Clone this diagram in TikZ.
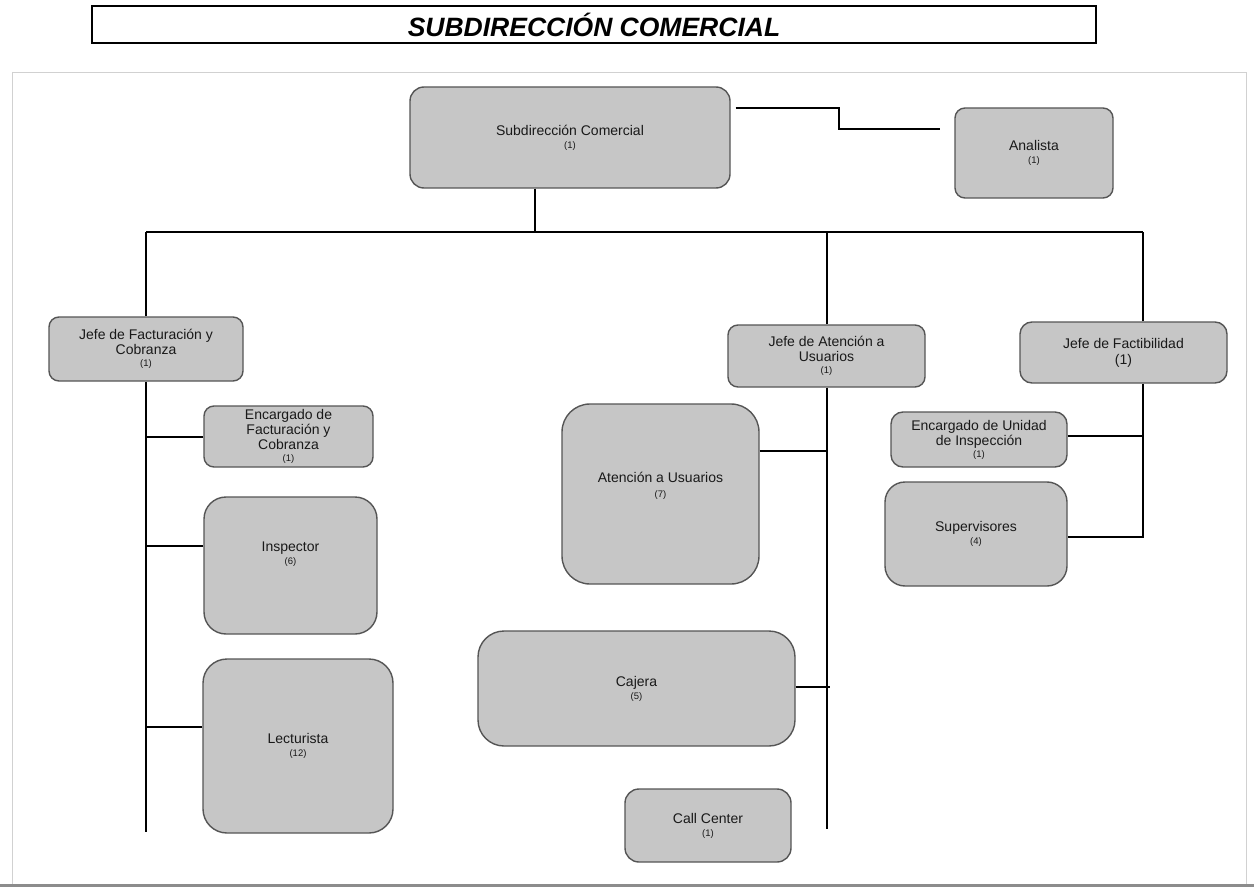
\documentclass[tikz,border=0pt]{standalone}
\usepackage{fontspec}
\setmainfont{Liberation Sans}
\definecolor{boxfill}{RGB}{198,198,198}
\definecolor{boxline}{RGB}{85,85,85}
\definecolor{txt}{RGB}{25,25,25}
\newcommand\cntx[1]{{\fontsize{9.5}{10}\selectfont #1}}
\begin{document}
\begin{tikzpicture}[x=1pt,y=-1pt,
  box/.style={draw=boxline, fill=boxfill, line width=1.4pt, rounded corners=10pt,
    inner sep=0pt, align=center, text=txt, font=\fontsize{14}{15}\selectfont},
  conn/.style={draw=black, line width=2pt}]
\useasboundingbox (0,0) rectangle (1254,888);
% faint frame of the scanned chart
\draw[black!18, line width=0.8pt] (12,72) -- (1246,72) -- (1246,885);
\draw[black!18, line width=0.8pt] (12,72) -- (12,885);
\draw[black!45, line width=3pt] (0,885) -- (1254,885);
% title
\node[draw=black, line width=2.2pt, minimum width=1004pt, minimum height=37pt, inner sep=0pt,
  font=\fontsize{26.5}{28}\selectfont\bfseries\itshape] (title) at (594,24.5) {SUBDIRECCIÓN COMERCIAL};
% boxes
\node[box, rounded corners=14pt, minimum width=320pt, minimum height=101pt] (sub) at (570,137.5) {Subdirección Comercial\\[-2pt]\cntx{(1)}};
\node[box, minimum width=158pt, minimum height=90pt] (an) at (1034,153) {Analista\\[-2pt]\cntx{(1)}};
\node[box, minimum width=194pt, minimum height=64pt] (jfc) at (146,349) {Jefe de Facturación y\\Cobranza\\[-3pt]\cntx{(1)}};
\node[box, minimum width=169pt, minimum height=61pt] (efc) at (288.5,436.5) {Encargado de\\Facturación y\\Cobranza\\[-3pt]\cntx{(1)}};
\node[box, rounded corners=22pt, minimum width=173pt, minimum height=137pt] (insp) at (290.5,565.5) {Inspector\\[-2pt]\cntx{(6)}\\[10pt]};
\node[box, rounded corners=24pt, minimum width=190pt, minimum height=174pt] (lect) at (298,746) {Lecturista\\[-2pt]\cntx{(12)}};
\node[box, minimum width=197pt, minimum height=62pt] (ja) at (826.5,356) {Jefe de Atención a\\Usuarios\\[-3pt]\cntx{(1)}};
\node[box, rounded corners=28pt, minimum width=197pt, minimum height=180pt] (au) at (660.5,494) {Atención a Usuarios\\[0pt]\cntx{(7)}\\[4pt]};
\node[box, rounded corners=26pt, minimum width=317pt, minimum height=115pt] (caj) at (636.5,688.5) {Cajera\\[-2pt]\cntx{(5)}};
\node[box, rounded corners=14pt, minimum width=166pt, minimum height=73pt] (cc) at (708,825.5) {Call Center\\[-2pt]\cntx{(1)}};
\node[box, rounded corners=12pt, minimum width=207pt, minimum height=61pt] (jf) at (1123.5,352.5) {Jefe de Factibilidad\\[1pt](1)};
\node[box, rounded corners=12pt, minimum width=176pt, minimum height=55pt] (eui) at (979,439.5) {Encargado de Unidad\\de Inspección\\[-3pt]\cntx{(1)}};
\node[box, rounded corners=20pt, minimum width=182pt, minimum height=104pt] (sup) at (976,534) {Supervisores\\[-2pt]\cntx{(4)}};
% bus
\coordinate (busL) at (146,232);
\coordinate (busR) at (1143,232);
\coordinate (kink) at (839,119);
\coordinate (fcEnd) at (146,832);
\coordinate (jaEnd) at (827,829);
\draw[conn] (busL) -- (busR);
\draw[conn] ([xshift=-35pt]sub.south) -- ([xshift=-35pt]sub.south |- busL);
\draw[conn] ([xshift=5pt,yshift=-22pt]sub.north east) -| (kink) |- ([xshift=-14pt,yshift=24pt]an.west);
% drops
\draw[conn] (jfc.north) -- (jfc.north |- busL);
\draw[conn] (ja.north) -- (ja.north |- busL);
\draw[conn] ([xshift=19.5pt]jf.north) -- ([xshift=19.5pt]jf.north |- busR);
% left branch
\draw[conn] (jfc.south) -- (fcEnd);
\draw[conn] (efc.west) -- (efc.west -| fcEnd);
\draw[conn] ([yshift=20pt]insp.west) -- ([yshift=20pt]insp.west -| fcEnd);
\draw[conn] ([yshift=19pt]lect.west) -- ([yshift=19pt]lect.west -| fcEnd);
% middle branch
\draw[conn] ([xshift=0.5pt]ja.south) -- (jaEnd);
\draw[conn] ([yshift=43pt]au.east) -- ([yshift=43pt]au.east -| jaEnd);
\draw[conn] ([yshift=2pt]caj.east) -- ([yshift=2pt,xshift=3pt]caj.east -| jaEnd);
% right branch
\coordinate (jfEnd) at (1143,537);
\draw[conn] ([xshift=19.5pt]jf.south) -- (jfEnd) -- (jfEnd -| sup.east);
\draw[conn] ([yshift=4pt]eui.east) -- ([yshift=4pt]eui.east -| jfEnd);
\end{tikzpicture}
\end{document}
